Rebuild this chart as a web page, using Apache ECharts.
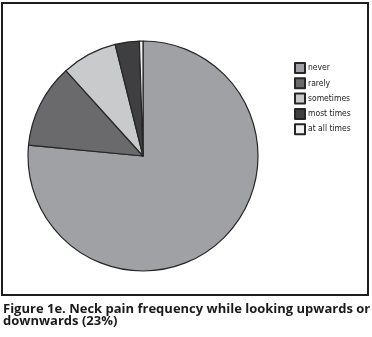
<!DOCTYPE html>
<html>
<head>
<meta charset="utf-8">
<script src="https://cdn.jsdelivr.net/npm/echarts@6/dist/echarts.min.js"></script>
<style>
html,body{margin:0;padding:0;background:#fff;}
#chart{width:372px;height:337px;}
</style>
</head>
<body>
<div id="chart"></div>
<script>
const categories = ['never', 'rarely', 'sometimes', 'most times', 'at all times'];
const values = [76.5, 11.8, 7.8, 3.4, 0.5];
const colors = ['#a0a1a4', '#6a6a6d', '#c9cacc', '#3f3f42', '#f2f2f2'];
const captionLines = ['Figure 1e. Neck pain frequency while looking upwards or', 'downwards (23%)'];

const chart = echarts.init(document.getElementById('chart'), null, {renderer: 'canvas'});
chart.setOption({
  animation: false,
  backgroundColor: '#ffffff',
  color: colors,
  legend: {
    orient: 'vertical',
    left: 294,
    top: 62,
    padding: 0,
    icon: 'rect',
    itemWidth: 10,
    itemHeight: 10,
    itemGap: 3.3,
    textStyle: {fontFamily: '"DejaVu Sans Condensed", sans-serif', fontSize: 8.5, color: '#222', padding: [0, 0, 0, -2]},
    data: categories
  },
  series: [{
    type: 'pie',
    center: [143, 156],
    radius: 115,
    startAngle: 90,
    clockwise: true,
    label: {show: false},
    labelLine: {show: false},
    emphasis: {disabled: true},
    itemStyle: {borderColor: '#262626', borderWidth: 1.2},
    data: categories.map((c, i) => ({name: c, value: values[i]}))
  }],
  graphic: [
    {type: 'rect', shape: {x: 2, y: 3, width: 366, height: 292}, style: {fill: 'none', stroke: '#1e1e1e', lineWidth: 2}, z: -1},
    {type: 'text', left: 3, top: 303, style: {text: captionLines[0], font: 'bold 13px "Open Sans"', fill: '#1a1a1a'}},
    {type: 'text', left: 3, top: 315, style: {text: captionLines[1], font: 'bold 13px "Open Sans"', fill: '#1a1a1a'}}
  ]
});
</script>
</body>
</html>
